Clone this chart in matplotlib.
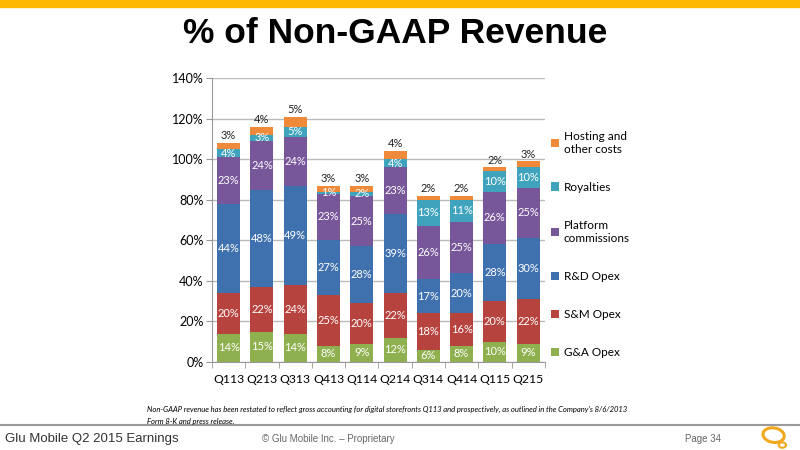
import numpy as np
import matplotlib
matplotlib.use('Agg')
import matplotlib.pyplot as plt
from matplotlib.patches import Ellipse, Rectangle

quarters = ['Q113', 'Q213', 'Q313', 'Q413', 'Q114', 'Q214', 'Q314', 'Q414', 'Q115', 'Q215']
ga_opex = [14, 15, 14, 8, 9, 12, 6, 8, 10, 9]
sm_opex = [20, 22, 24, 25, 20, 22, 18, 16, 20, 22]
rd_opex = [44, 48, 49, 27, 28, 39, 17, 20, 28, 30]
platform = [23, 24, 24, 23, 25, 23, 26, 25, 26, 25]
royalties = [4, 3, 5, 1, 2, 4, 13, 11, 10, 10]
hosting = [3, 4, 5, 3, 3, 4, 2, 2, 2, 3]

series = [
    ('G&A Opex', ga_opex, '#8FB04F'),
    ('S&M Opex', sm_opex, '#B7433F'),
    ('R&D Opex', rd_opex, '#3F71AE'),
    ('Platform\ncommissions', platform, '#77569A'),
    ('Royalties', royalties, '#3FA3BE'),
    ('Hosting and\nother costs', hosting, '#EE8A3A'),
]

font = 'Lato'
fig = plt.figure(figsize=(8, 4.5), dpi=100)

# orange strip + title
fig.patches.append(Rectangle((0, 0.984), 1, 0.016, transform=fig.transFigure, color='#FFB800', zorder=0))
fig.text(0.494, 0.925, '% of Non-GAAP Revenue', ha='center', va='center', fontsize=25.5,
         fontweight='bold', family='Liberation Sans')

ax = fig.add_axes([0.265, 0.1956, 0.416, 0.631])
x = np.arange(len(quarters))
bottom = np.zeros(len(quarters))
for name, vals, col in series:
    vals = np.array(vals, dtype=float)
    ax.bar(x, vals, 0.69, bottom=bottom, color=col, label=name, zorder=2)
    for i, v in enumerate(vals):
        if name.startswith('Hosting'):
            ax.text(x[i], bottom[i] + v + 0.8, '%d%%' % v, ha='center', va='bottom',
                    fontsize=8, color='#222222', family=font)
        else:
            ax.text(x[i], bottom[i] + v / 2, '%d%%' % v, ha='center', va='center',
                    fontsize=8, color='white', family=font)
    bottom += vals

ax.set_xlim(-0.5, len(quarters) - 0.5)
ax.set_ylim(0, 140)
ax.set_yticks(range(0, 141, 20))
ax.set_yticklabels(['%d%%' % v for v in range(0, 141, 20)], family=font, fontsize=9)
ax.set_xticks(x)
ax.set_xticklabels(quarters, family=font, fontsize=8.8)
ax.set_xticks(np.arange(-0.5, len(quarters)), minor=True)
ax.tick_params(axis='x', which='major', length=0, pad=9)
ax.tick_params(axis='x', which='minor', length=4, color='#999999')
ax.tick_params(axis='y', length=4, color='#999999', pad=2)
ax.grid(True, axis='y', color='#BBBBBB', linewidth=1, zorder=0)
for s in ['top', 'right']:
    ax.spines[s].set_visible(False)
for s in ['left', 'bottom']:
    ax.spines[s].set_color('#999999')

handles, labels = ax.get_legend_handles_labels()
leg = fig.legend(handles[::-1], labels[::-1], loc='upper left', bbox_to_anchor=(0.675, 0.733),
                 frameon=False, prop={'family': font, 'size': 8.5}, handlelength=0.7,
                 handleheight=0.7, handletextpad=0.4, labelspacing=2.3)

# footnote
fig.text(0.184, 0.089, "Non-GAAP revenue has been restated to reflect gross accounting for digital storefronts Q113 and prospectively, as outlined in the Company's 8/6/2013",
         fontsize=5.5, style='italic', family=font, va='center')
fig.text(0.184, 0.064, 'Form 8-K and press release.', fontsize=5.5, style='italic', family=font, va='center')

# footer
fig.add_artist(plt.Line2D([0, 1], [0.055, 0.055], color='#9A9A9A', linewidth=1.5))
fig.text(0.006, 0.024, 'Glu Mobile Q2 2015 Earnings', fontsize=9.5, color='#333333',
         family='Liberation Sans', va='center')
fig.text(0.41, 0.024, '\u00a9 Glu Mobile Inc. \u2013 Proprietary', fontsize=7, color='#666666',
         family='Liberation Sans', va='center', ha='center')
fig.text(0.856, 0.024, 'Page 34', fontsize=7, color='#666666', family='Liberation Sans', va='center')
fig.patches.append(Ellipse((0.967, 0.033), 0.026, 0.033, transform=fig.transFigure, angle=15,
                           fill=False, edgecolor='#F2A81D', linewidth=2.2))
fig.patches.append(Ellipse((0.978, 0.011), 0.009, 0.012, transform=fig.transFigure,
                           fill=False, edgecolor='#F2A81D', linewidth=1.5))

fig.savefig('out.png', dpi=100)
